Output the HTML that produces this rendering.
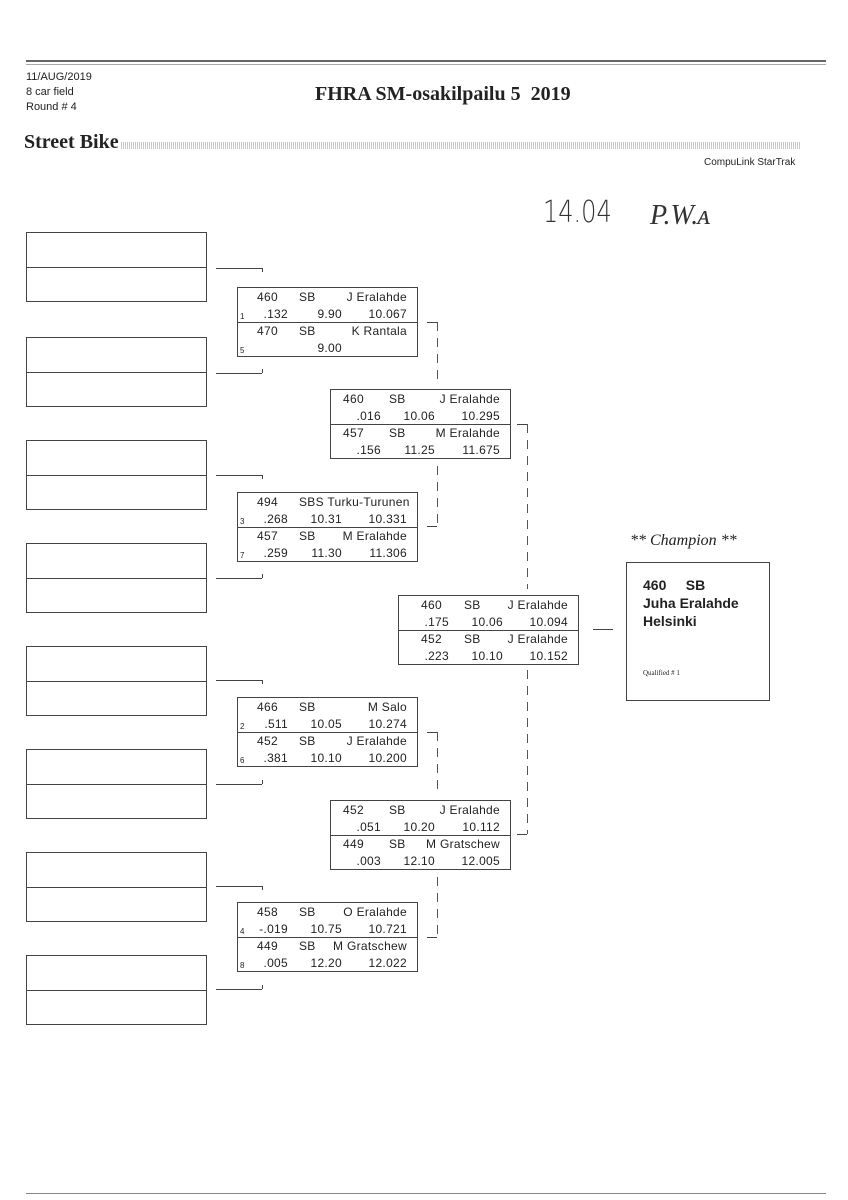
<!DOCTYPE html>
<html><head><meta charset="utf-8"><style>
body{margin:0;background:#fff;}
#p{position:relative;width:848px;height:1200px;overflow:hidden;font-family:"Liberation Sans",sans-serif;color:#222;}
.a{position:absolute;}
.lb{position:absolute;left:26px;width:179px;height:68px;border:1px solid #444;}
.lb:after{content:"";position:absolute;left:0;right:0;top:34px;border-top:1px solid #444;}
.m{position:absolute;width:179px;height:68px;border:1px solid #444;font-size:12px;letter-spacing:0.3px;}
.m:after{content:"";position:absolute;left:0;right:0;top:34px;border-top:1px solid #444;}
.m span{position:absolute;white-space:nowrap;line-height:16px;}
.n{left:19px}.s{left:61px}.nm{right:10px}.r{right:129px}.e{right:75px}.t{right:10px}
.sd{left:2px;font-size:8px;margin-top:3px}
.r1{top:1px}.r2{top:18px}.r3{top:35px}.r4{top:52px}
.h{position:absolute;border-top:1px solid #444;height:0;}
.v{position:absolute;width:1px;background:repeating-linear-gradient(180deg,#555 0 9px,transparent 9px 16px);}
.vs{position:absolute;border-left:1px solid #444;width:0;}
</style></head><body><div id="p">
<div class="a" style="left:26px;top:60px;width:800px;height:2px;background:#666"></div>
<div class="a" style="left:26px;top:64px;width:800px;height:1px;background:#aaa"></div>
<div class="a" style="left:26px;top:70px;font-size:11px;line-height:15px;">11/AUG/2019<br>8 car field<br>Round # 4</div>
<div class="a" style="left:315px;top:83px;font-family:'Liberation Serif',serif;font-weight:bold;font-size:20px;">FHRA SM-osakilpailu 5&nbsp; 2019</div>
<div class="a" style="left:24px;top:131px;font-family:'Liberation Serif',serif;font-weight:bold;font-size:20px;">Street Bike</div>
<div class="a" style="left:121px;top:142px;width:680px;height:7px;background:repeating-linear-gradient(90deg,#bbb 0 1px,#fff 1px 2px);opacity:.8"></div>
<div class="a" style="left:704px;top:157px;font-size:10px;">CompuLink StarTrak</div>
<div class="a" style="left:543px;top:195px;font-size:30px;font-family:'DejaVu Sans',sans-serif;font-weight:100;color:#333;transform:scaleX(.8);transform-origin:left;">14.04</div>
<div class="a" style="left:650px;top:200px;font-size:28px;font-style:italic;font-family:'Liberation Serif',serif;color:#333;">P.W.ᴀ</div>

<div class="lb" style="top:232px"></div>
<div class="lb" style="top:337px"></div>
<div class="lb" style="top:440px"></div>
<div class="lb" style="top:543px"></div>
<div class="lb" style="top:646px"></div>
<div class="lb" style="top:749px"></div>
<div class="lb" style="top:852px"></div>
<div class="lb" style="top:955px"></div>

<div class="h" style="left:216px;top:268px;width:46px"></div><div class="vs" style="left:262px;top:268px;height:4px"></div>
<div class="h" style="left:216px;top:373px;width:46px"></div><div class="vs" style="left:262px;top:369px;height:4px"></div>
<div class="h" style="left:216px;top:475px;width:46px"></div><div class="vs" style="left:262px;top:475px;height:4px"></div>
<div class="h" style="left:216px;top:578px;width:46px"></div><div class="vs" style="left:262px;top:574px;height:4px"></div>
<div class="h" style="left:216px;top:680px;width:46px"></div><div class="vs" style="left:262px;top:680px;height:4px"></div>
<div class="h" style="left:216px;top:784px;width:46px"></div><div class="vs" style="left:262px;top:780px;height:4px"></div>
<div class="h" style="left:216px;top:886px;width:46px"></div><div class="vs" style="left:262px;top:886px;height:4px"></div>
<div class="h" style="left:216px;top:989px;width:46px"></div><div class="vs" style="left:262px;top:985px;height:4px"></div>

<div class="m" style="left:237px;top:287px">
<span class="n r1">460</span><span class="s r1">SB</span><span class="nm r1">J Eralahde</span>
<span class="sd r2">1</span><span class="r r2">.132</span><span class="e r2">9.90</span><span class="t r2">10.067</span>
<span class="n r3">470</span><span class="s r3">SB</span><span class="nm r3">K Rantala</span>
<span class="sd r4">5</span><span class="e r4">9.00</span></div>
<div class="m" style="left:237px;top:492px">
<span class="n r1">494</span><span class="s r1">SBS Turku-Turunen</span>
<span class="sd r2">3</span><span class="r r2">.268</span><span class="e r2">10.31</span><span class="t r2">10.331</span>
<span class="n r3">457</span><span class="s r3">SB</span><span class="nm r3">M Eralahde</span>
<span class="sd r4">7</span><span class="r r4">.259</span><span class="e r4">11.30</span><span class="t r4">11.306</span></div>
<div class="m" style="left:237px;top:697px">
<span class="n r1">466</span><span class="s r1">SB</span><span class="nm r1">M Salo</span>
<span class="sd r2">2</span><span class="r r2">.511</span><span class="e r2">10.05</span><span class="t r2">10.274</span>
<span class="n r3">452</span><span class="s r3">SB</span><span class="nm r3">J Eralahde</span>
<span class="sd r4">6</span><span class="r r4">.381</span><span class="e r4">10.10</span><span class="t r4">10.200</span></div>
<div class="m" style="left:237px;top:902px">
<span class="n r1">458</span><span class="s r1">SB</span><span class="nm r1">O Eralahde</span>
<span class="sd r2">4</span><span class="r r2">-.019</span><span class="e r2">10.75</span><span class="t r2">10.721</span>
<span class="n r3">449</span><span class="s r3">SB</span><span class="nm r3">M Gratschew</span>
<span class="sd r4">8</span><span class="r r4">.005</span><span class="e r4">12.20</span><span class="t r4">12.022</span></div>

<div class="h" style="left:427px;top:322px;width:10px"></div><div class="v" style="left:437px;top:322px;height:60px"></div>
<div class="h" style="left:427px;top:526px;width:10px"></div><div class="v" style="left:437px;top:466px;height:60px"></div>
<div class="h" style="left:427px;top:732px;width:10px"></div><div class="v" style="left:437px;top:732px;height:60px"></div>
<div class="h" style="left:427px;top:937px;width:10px"></div><div class="v" style="left:437px;top:877px;height:60px"></div>

<div class="m" style="left:330px;top:389px">
<span class="n r1" style="left:12px">460</span><span class="s r1" style="left:58px">SB</span><span class="nm r1">J Eralahde</span>
<span class="r r2">.016</span><span class="e r2">10.06</span><span class="t r2">10.295</span>
<span class="n r3" style="left:12px">457</span><span class="s r3" style="left:58px">SB</span><span class="nm r3">M Eralahde</span>
<span class="r r4">.156</span><span class="e r4">11.25</span><span class="t r4">11.675</span></div>
<div class="m" style="left:330px;top:800px">
<span class="n r1" style="left:12px">452</span><span class="s r1" style="left:58px">SB</span><span class="nm r1">J Eralahde</span>
<span class="r r2">.051</span><span class="e r2">10.20</span><span class="t r2">10.112</span>
<span class="n r3" style="left:12px">449</span><span class="s r3" style="left:58px">SB</span><span class="nm r3">M Gratschew</span>
<span class="r r4">.003</span><span class="e r4">12.10</span><span class="t r4">12.005</span></div>

<div class="h" style="left:517px;top:424px;width:10px"></div><div class="v" style="left:527px;top:424px;height:165px"></div>
<div class="h" style="left:517px;top:834px;width:10px"></div><div class="v" style="left:527px;top:670px;height:164px"></div>

<div class="m" style="left:398px;top:595px">
<span class="n r1" style="left:22px">460</span><span class="s r1" style="left:65px">SB</span><span class="nm r1">J Eralahde</span>
<span class="r r2">.175</span><span class="e r2">10.06</span><span class="t r2">10.094</span>
<span class="n r3" style="left:22px">452</span><span class="s r3" style="left:65px">SB</span><span class="nm r3">J Eralahde</span>
<span class="r r4">.223</span><span class="e r4">10.10</span><span class="t r4">10.152</span></div>
<div class="h" style="left:593px;top:629px;width:20px"></div>

<div class="a" style="left:630px;top:532px;font-family:'Liberation Serif',serif;font-style:italic;font-size:16px;">** Champion **</div>
<div class="a" style="left:626px;top:562px;width:142px;height:137px;border:1px solid #444;">
<div class="a" style="left:16px;top:13px;font-weight:bold;font-size:14px;line-height:18px;">460&nbsp;&nbsp;&nbsp;&nbsp; SB<br>Juha Eralahde<br>Helsinki</div>
<div class="a" style="left:16px;top:106px;font-family:'Liberation Serif',serif;font-size:7px;">Qualified # 1</div>
</div>
<div class="a" style="left:26px;top:1193px;width:800px;height:1px;background:#888"></div>
</div></body></html>
